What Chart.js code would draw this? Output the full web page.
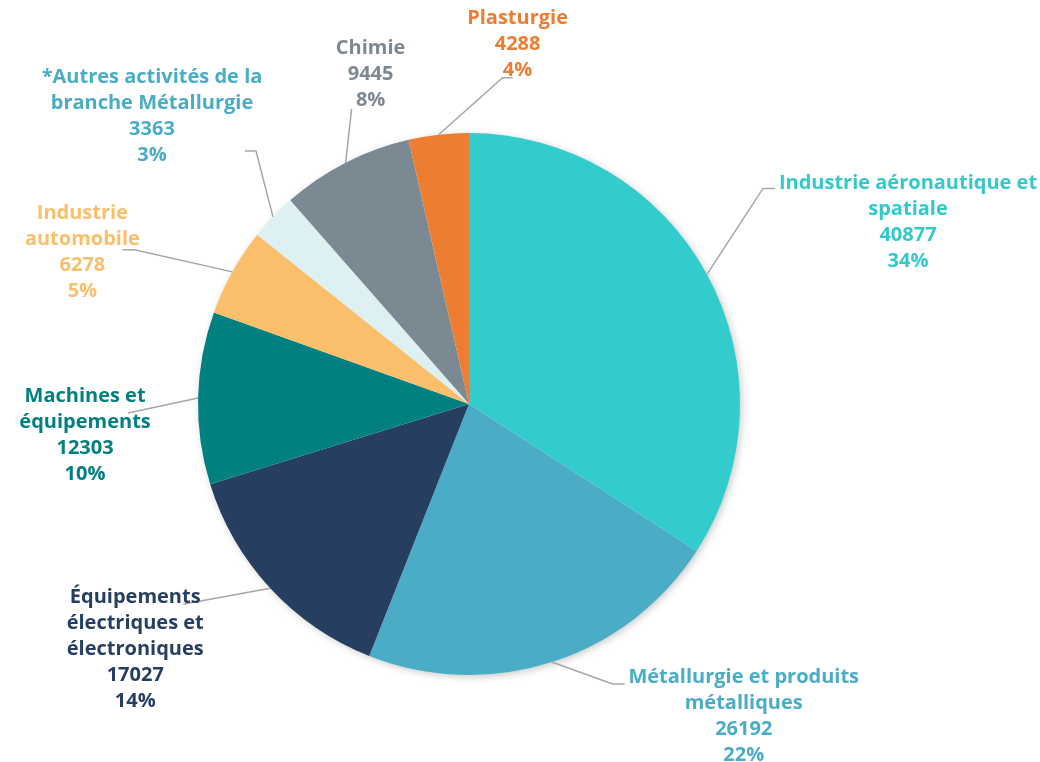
<!DOCTYPE html>
<html>
<head>
<meta charset="utf-8">
<script src="https://cdn.jsdelivr.net/npm/chart.js@4.4.1/dist/chart.umd.min.js"></script>
<style>
html,body{margin:0;padding:0;background:#fff;}
#wrap{width:1040px;height:762px;position:relative;}
</style>
</head>
<body>
<div id="wrap"><canvas id="c" width="1040" height="762"></canvas></div>
<script>
// ---- data ----
const categories = [
  ["Industrie aéronautique et", "spatiale"],
  ["Métallurgie et produits", "métalliques"],
  ["Équipements", "électriques et", "électroniques"],
  ["Machines et", "équipements"],
  ["Industrie", "automobile"],
  ["*Autres activités de la", "branche Métallurgie"],
  ["Chimie"],
  ["Plasturgie"]
];
const values = [40877, 26192, 17027, 12303, 6278, 3363, 9445, 4288];

// ---- styles ----
const sliceColors = ["#33CCCC", "#4BACC6", "#263F60", "#008080", "#FBBF6B", "#DDF0F2", "#7B8A92", "#ED7D31"];
const textColors  = ["#33C9CB", "#4BACC6", "#263F60", "#008080", "#F9BF6A", "#4BACC6", "#7B8A92", "#ED7D31"];
// label layout: offset of label centre (first line) and leader elbow/end relative to slice's outer mid point
const labelOffset = [[201,-91],[192,15],[-135,9],[-113,-2],[-150,-59],[-121,-140],[25,-114],[79,-116]];
const elbowOffset = [[56,-86],[61,22],[-82,15],[-70,15],[-98,-22],[-17,-66],[6,-54],[64,-57]];
const endOffset   = [[68,-86],[73,22],[-87,16],[-70,15],[-110,-22],[-28,-66],[6,-54],[74,-57]];
const lineHeight = 26;
const fontSpec = "bold 20px 'Open Sans', 'DejaVu Sans', sans-serif";

const total = values.reduce((a,b)=>a+b,0);

const shadowPlugin = {
  id: 'pieShadow',
  beforeDatasetsDraw(chart){
    const arc = chart.getDatasetMeta(0).data[0];
    if(!arc) return;
    const ctx = chart.ctx;
    ctx.save();
    ctx.shadowColor = 'rgba(0,0,0,0.25)';
    ctx.shadowBlur = 9;
    ctx.shadowOffsetX = 2;
    ctx.shadowOffsetY = 2;
    ctx.fillStyle = '#ffffff';
    ctx.beginPath();
    ctx.arc(arc.x, arc.y, arc.outerRadius - 1, 0, Math.PI*2);
    ctx.fill();
    ctx.restore();
  }
};

const labelPlugin = {
  id: 'outLabels',
  afterDatasetsDraw(chart){
    const ctx = chart.ctx;
    const meta = chart.getDatasetMeta(0);
    meta.data.forEach((arc, i) => {
      const mid = (arc.startAngle + arc.endAngle)/2;
      const sx = arc.x + Math.cos(mid)*arc.outerRadius;
      const sy = arc.y + Math.sin(mid)*arc.outerRadius;
      ctx.save();
      ctx.strokeStyle = '#A6A6A6';
      ctx.lineWidth = 1.5;
      ctx.beginPath();
      ctx.moveTo(sx, sy);
      ctx.lineTo(sx + elbowOffset[i][0], sy + elbowOffset[i][1]);
      ctx.lineTo(sx + endOffset[i][0], sy + endOffset[i][1]);
      ctx.stroke();
      ctx.restore();
    });
    meta.data.forEach((arc, i) => {
      const mid = (arc.startAngle + arc.endAngle)/2;
      const sx = arc.x + Math.cos(mid)*arc.outerRadius;
      const sy = arc.y + Math.sin(mid)*arc.outerRadius;
      const lx = sx + labelOffset[i][0];
      const ly = sy + labelOffset[i][1];
      const lines = categories[i].concat([String(values[i]), Math.round(values[i]/total*100) + '%']);
      ctx.save();
      ctx.font = fontSpec;
      ctx.fillStyle = textColors[i];
      ctx.textAlign = 'center';
      ctx.textBaseline = 'middle';
      lines.forEach((t, k) => ctx.fillText(t, lx, ly + k*lineHeight));
      ctx.restore();
    });
  }
};

new Chart(document.getElementById('c'), {
  type: 'pie',
  data: {
    labels: categories.map(l => l.join(' ')),
    datasets: [{
      data: values,
      backgroundColor: sliceColors,
      borderWidth: 0
    }]
  },
  options: {
    responsive: false,
    animation: false,
    layout: { padding: { left: 198, right: 300, top: 133, bottom: 87 } },
    plugins: {
      legend: { display: false },
      tooltip: { enabled: false }
    }
  },
  plugins: [shadowPlugin, labelPlugin]
});
</script>
</body>
</html>
